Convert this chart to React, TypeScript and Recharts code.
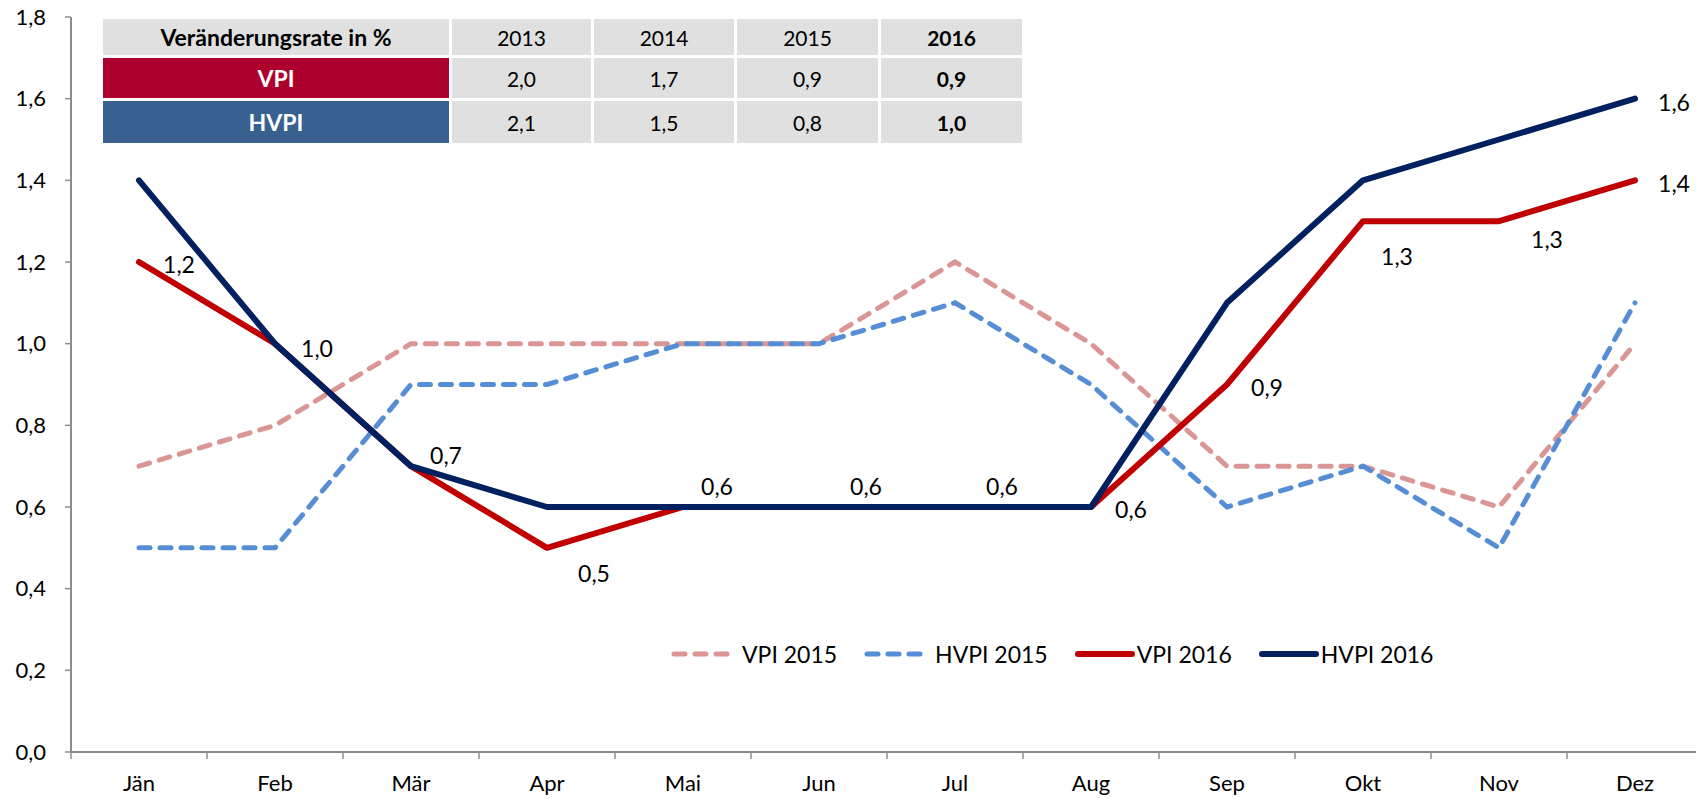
import React from 'react';
import { LineChart, Line, XAxis, YAxis, Legend, LabelList } from 'recharts';

const months = ['Jän', 'Feb', 'Mär', 'Apr', 'Mai', 'Jun', 'Jul', 'Aug', 'Sep', 'Okt', 'Nov', 'Dez'];
const vpi2015 = [0.7, 0.8, 1.0, 1.0, 1.0, 1.0, 1.2, 1.0, 0.7, 0.7, 0.6, 1.0];
const hvpi2015 = [0.5, 0.5, 0.9, 0.9, 1.0, 1.0, 1.1, 0.9, 0.6, 0.7, 0.5, 1.1];
const vpi2016 = [1.2, 1.0, 0.7, 0.5, 0.6, 0.6, 0.6, 0.6, 0.9, 1.3, 1.3, 1.4];
const hvpi2016 = [1.4, 1.0, 0.7, 0.6, 0.6, 0.6, 0.6, 0.6, 1.1, 1.4, 1.5, 1.6];
const yTicks = [0, 0.2, 0.4, 0.6, 0.8, 1.0, 1.2, 1.4, 1.6, 1.8];

const tableHeader = 'Veränderungsrate in %';
const tableYears = ['2013', '2014', '2015', '2016'];
const tableVpi = ['2,0', '1,7', '0,9', '0,9'];
const tableHvpi = ['2,1', '1,5', '0,8', '1,0'];

// hand-placed label nudges (dx, dy) for the VPI 2016 values
const vpiLabelShift = [
  [40, 2], [42, 4], [35, -11], [47, 25], [34, -21], [47, -21],
  [47, -21], [40, 2], [40, 2], [34, 35], [48, 18], [39, 3],
];

const PINK = '#da9694';
const LIGHTBLUE = '#558ed5';
const RED = '#c00000';
const NAVY = '#002060';
const AXIS = '#8c8c8c';
const FONT = 'Lato, sans-serif';
const HALF_BAND = 68;

const data = months.map((m, i) => ({
  month: m,
  vpi2015: vpi2015[i],
  hvpi2015: hvpi2015[i],
  vpi2016: vpi2016[i],
  hvpi2016: hvpi2016[i],
}));

const fmt = (v: number) => v.toFixed(1).replace('.', ',');

const legendItems = [
  { label: 'VPI 2015', color: PINK, dash: true },
  { label: 'HVPI 2015', color: LIGHTBLUE, dash: true },
  { label: 'VPI 2016', color: RED, dash: false },
  { label: 'HVPI 2016', color: NAVY, dash: false },
];

function LegendBox() {
  return (
    <div style={{ display: 'flex', alignItems: 'center', fontSize: 23, fontFamily: FONT, color: '#000' }}>
      {legendItems.map((it) => (
        <div key={it.label} style={{ display: 'flex', alignItems: 'center', marginRight: 26 }}>
          <svg width={62} height={10}>
            <line x1={4} y1={5} x2={58} y2={5} stroke={it.color} strokeWidth={it.dash ? 5 : 6}
              strokeDasharray={it.dash ? '11 10' : undefined} strokeLinecap="round" />
          </svg>
          <span style={{ marginLeft: it.dash ? 10 : 1 }}>{it.label}</span>
        </div>
      ))}
    </div>
  );
}

const cell = (bg: string, color: string, bold: boolean, size = 21): React.CSSProperties => ({
  background: bg, color, fontWeight: bold ? 700 : 400, fontSize: size,
  display: 'flex', alignItems: 'center', justifyContent: 'center',
});

function RateTable() {
  const grey = '#e0e0e0';
  return (
    <div style={{
      position: 'absolute', left: 103, top: 19, display: 'grid',
      gridTemplateColumns: '346px 139px 140px 141px 141px', gridTemplateRows: '36px 40px 42px',
      gap: 3, background: '#fff', fontFamily: FONT,
    }}>
      <div style={cell(grey, '#000', true, 23)}>{tableHeader}</div>
      {tableYears.map((y, i) => <div key={y} style={cell(grey, '#000', i === 3)}>{y}</div>)}
      <div style={cell('#ad002e', '#fff', true, 23)}>VPI</div>
      {tableVpi.map((v, i) => <div key={'v' + i} style={cell(grey, '#000', i === 3)}>{v}</div>)}
      <div style={cell('#386191', '#fff', true, 23)}>HVPI</div>
      {tableHvpi.map((v, i) => <div key={'h' + i} style={cell(grey, '#000', i === 3)}>{v}</div>)}
    </div>
  );
}

// month label plus a tick mark at the left edge of each category
const MonthTick = (p: any) => {
  const { x, y, payload } = p;
  return (
    <g>
      <line x1={x - HALF_BAND} y1={y} x2={x - HALF_BAND} y2={y + 7} stroke={AXIS} strokeWidth={1.5} />
      <text x={x} y={y + 23} dy="0.71em" textAnchor="middle" fontSize={22} fill="#000">{payload.value}</text>
    </g>
  );
};

const vpiLabel = (p: any) => {
  const { x, y, value, index } = p;
  const [dx, dy] = vpiLabelShift[index];
  return (
    <text x={x + dx} y={y + dy} textAnchor="middle" dominantBaseline="central" fontSize={23} fill="#000">
      {fmt(value)}
    </text>
  );
};

const hvpiLabel = (p: any) => {
  const { x, y, value, index } = p;
  if (index !== months.length - 1) return null;
  return (
    <text x={x + 39} y={y + 3} textAnchor="middle" dominantBaseline="central" fontSize={23} fill="#000">
      {fmt(value)}
    </text>
  );
};

export default function App() {
  return (
    <div style={{
      position: 'fixed', left: 0, top: 0, width: 1696, height: 799, overflow: 'hidden',
      background: '#fff', fontFamily: FONT,
    }}>
      <LineChart width={1710} height={799} data={data} margin={{ top: 17, right: 7, bottom: 0, left: 0 }}>
        <XAxis dataKey="month" padding={{ left: HALF_BAND, right: HALF_BAND }} tickLine={false}
          tickSize={0} tickMargin={0} height={47} interval={0} tick={<MonthTick />}
          axisLine={{ stroke: AXIS, strokeWidth: 2 }} />
        <YAxis width={71} domain={[0, 1.8]} ticks={yTicks} tickFormatter={fmt} interval={0}
          tickSize={6} tickMargin={19} tick={{ fontSize: 22, fill: '#000' }}
          axisLine={{ stroke: AXIS, strokeWidth: 2 }} tickLine={{ stroke: AXIS, strokeWidth: 1.5 }} />
        <Legend layout="horizontal" verticalAlign="middle" align="center" content={() => <LegendBox />}
          wrapperStyle={{ left: 670, top: 640, width: 'auto' }} />
        <Line dataKey="vpi2015" stroke={PINK} strokeWidth={5} strokeDasharray="11 10" strokeLinecap="round"
          dot={false} isAnimationActive={false} />
        <Line dataKey="hvpi2015" stroke={LIGHTBLUE} strokeWidth={5} strokeDasharray="11 10" strokeLinecap="round"
          dot={false} isAnimationActive={false} />
        <Line dataKey="vpi2016" stroke={RED} strokeWidth={6} strokeLinecap="round" strokeLinejoin="round"
          dot={false} isAnimationActive={false}>
          <LabelList dataKey="vpi2016" content={vpiLabel} />
        </Line>
        <Line dataKey="hvpi2016" stroke={NAVY} strokeWidth={6} strokeLinecap="round" strokeLinejoin="round"
          dot={false} isAnimationActive={false}>
          <LabelList dataKey="hvpi2016" content={hvpiLabel} />
        </Line>
      </LineChart>
      <RateTable />
    </div>
  );
}
